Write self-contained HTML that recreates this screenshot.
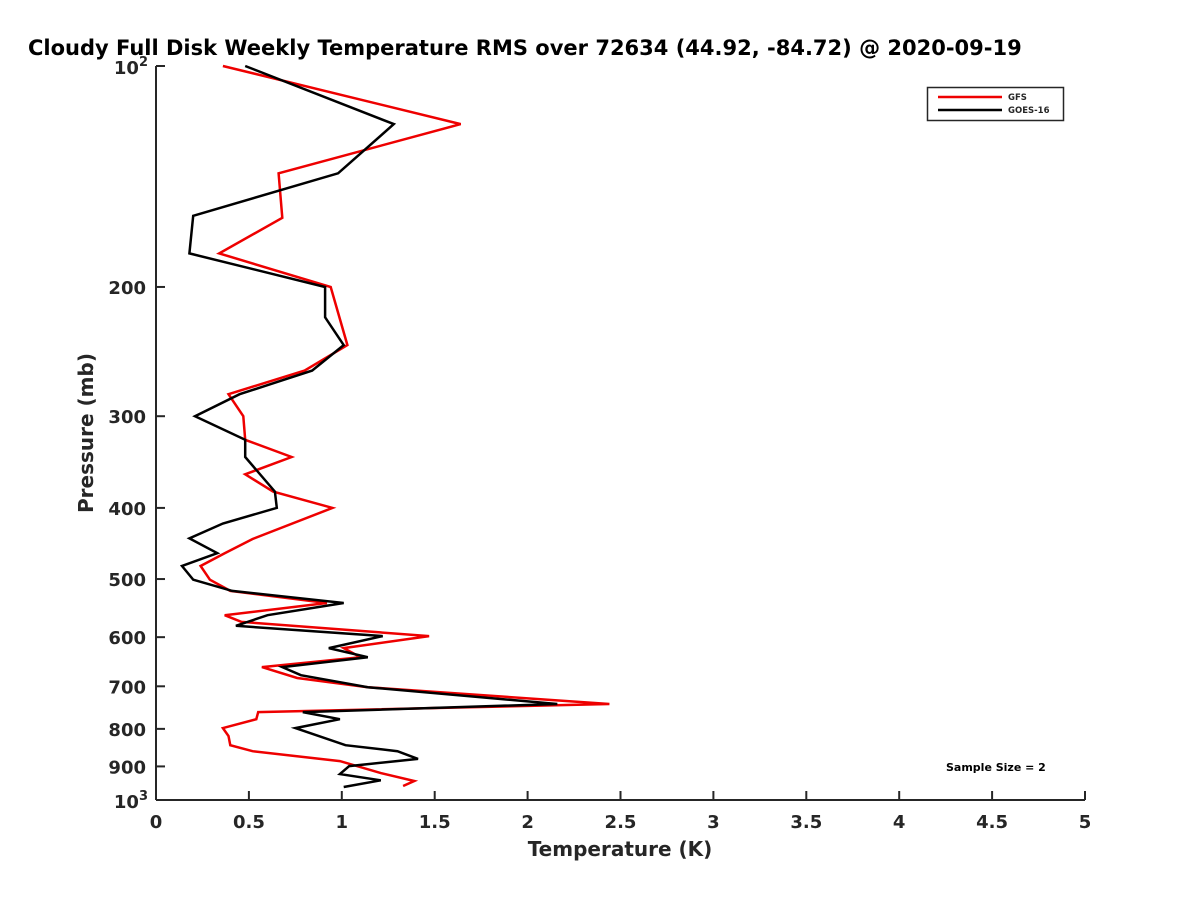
<!DOCTYPE html>
<html><head><meta charset="utf-8"><style>
body{margin:0;background:#fff;overflow:hidden;}
svg text{font-family:"DejaVu Sans","Liberation Sans",sans-serif;font-weight:bold;fill:#262626;}
</style></head><body>
<svg id="chart" width="1200" height="900" xmlns="http://www.w3.org/2000/svg">
<rect width="1200" height="900" fill="#fff"/>
<text x="28" y="55" font-size="21" style="fill:#000">Cloudy Full Disk Weekly Temperature RMS over 72634 (44.92, -84.72) @ 2020-09-19</text>
<g id="axes"></g>
<g id="series"></g>
<g>
<rect x="927.5" y="87.5" width="136" height="33" fill="#fff" stroke="#262626" stroke-width="1.5"/>
<line x1="938" y1="97" x2="1002" y2="97" stroke="#e00" stroke-width="2.5"/>
<text x="1008" y="100" font-size="8.5">GFS</text>
<line x1="938" y1="110" x2="1002" y2="110" stroke="#000" stroke-width="2.5"/>
<text x="1008" y="113" font-size="8.5">GOES-16</text>
</g>
<text x="946" y="771" font-size="11" style="fill:#000">Sample Size = 2</text>
<text x="620" y="856" font-size="20" text-anchor="middle">Temperature (K)</text>
<text transform="translate(93,433) rotate(-90)" font-size="20" text-anchor="middle">Pressure (mb)</text>
</svg>
<script>
const xTicks = [0,0.5,1,1.5,2,2.5,3,3.5,4,4.5,5];
const xTickLabels = ["0","0.5","1","1.5","2","2.5","3","3.5","4","4.5","5"];
const yTicks = [200,300,400,500,600,700,800,900];
const yTickLabels = ["200","300","400","500","600","700","800","900"];
const gfsP = [100,120,140,161,180,200,240,260,280,300,323,341,360,380,400,441,461,480,501,519,539,560,572,598,621,639,659,682,702,740,759,776,798,818,842,858,885,919,942,957];
const gfsT = [0.36,1.64,0.66,0.68,0.34,0.94,1.03,0.80,0.39,0.47,0.48,0.73,0.48,0.63,0.95,0.52,0.37,0.24,0.29,0.40,0.92,0.37,0.46,1.47,1.01,1.10,0.57,0.76,1.14,2.44,0.55,0.54,0.36,0.39,0.40,0.52,0.99,1.21,1.39,1.33];
const goesP = [100,120,140,160,180,200,220,240,260,280,300,323,341,380,400,420,440,461,480,501,519,539,560,579,598,621,639,659,676,702,740,759,776,798,842,858,879,899,922,940,960];
const goesT = [0.48,1.28,0.98,0.20,0.18,0.91,0.91,1.01,0.84,0.45,0.21,0.48,0.48,0.64,0.65,0.36,0.18,0.33,0.14,0.20,0.41,1.01,0.60,0.43,1.22,0.93,1.14,0.68,0.78,1.14,2.16,0.79,0.99,0.75,1.02,1.30,1.41,1.04,0.99,1.21,1.01];

const X0=156, X1=1085, Y0=66, Y1=800;
const xs = v => X0 + (v/5)*(X1-X0);
const ys = p => Y0 + Math.log10(p/100)*(Y1-Y0);
const NS="http://www.w3.org/2000/svg";
function mk(tag, attrs, parent){const e=document.createElementNS(NS,tag);for(const k in attrs)e.setAttribute(k,attrs[k]);parent.appendChild(e);return e;}
const axes=document.getElementById('axes');
const xa=mk('path',{d:`M${X0},${Y1}H${X1}M${X0},${Y0}V${Y1}`,stroke:'#262626','stroke-width':2,fill:'none'},axes);


xTicks.forEach((v,i)=>{
  const x=xs(v);
  const t=mk('line',{x1:x,y1:Y1,x2:x,y2:Y1-9,stroke:'#262626','stroke-width':2},axes);
  
  
  const l=mk('text',{x:x,y:Y1+28,'font-size':18,'text-anchor':'middle'},axes);
  l.textContent=xTickLabels[i];
  
  
});
[100,1000].concat(yTicks).forEach(p=>{
  const y=ys(p);
  const t=mk('line',{x1:X0,y1:y,x2:X0+9,y2:y,stroke:'#262626','stroke-width':2},axes);
  
  
});
yTicks.forEach((p,i)=>{
  const l=mk('text',{x:X0-10,y:ys(p)+7,'font-size':18,'text-anchor':'end'},axes);
  l.textContent=yTickLabels[i];
  
  
});
[[100,'2'],[1000,'3']].forEach(([p,e])=>{
  const l=mk('text',{x:X0-8,y:ys(p)+8,'font-size':18,'text-anchor':'end'},axes);
  l.innerHTML='10<tspan dy="-8" font-size="13">'+e+'</tspan>';
  
  
});
const ser=document.getElementById('series');
function line(P,T,color,name){
  const d=P.map((p,i)=>(i?'L':'M')+xs(T[i]).toFixed(1)+','+ys(p).toFixed(1)).join('');
  const e=mk('path',{d:d,stroke:color,'stroke-width':2.5,fill:'none','stroke-linejoin':'miter'},ser);
  
  
}
line(gfsP,gfsT,'#e00','gfs-line');
line(goesP,goesT,'#000','goes16-line');
</script>
</body></html>
